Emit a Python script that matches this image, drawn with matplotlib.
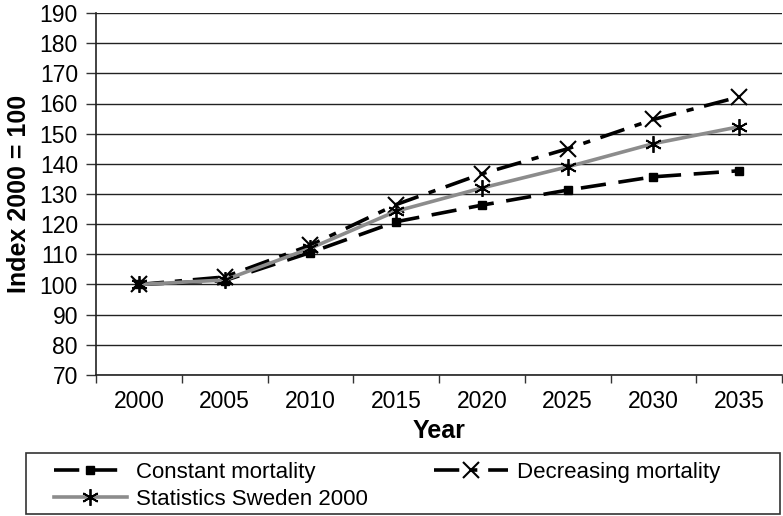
import matplotlib
matplotlib.use("Agg")
import matplotlib.pyplot as plt
from matplotlib.patches import Rectangle

plt.rcParams['font.family'] = ['Liberation Sans', 'DejaVu Sans']

years = ["2000", "2005", "2010", "2015", "2020", "2025", "2030", "2035"]
constant = [100, 101.3, 110.6, 120.8, 126.3, 131.3, 135.7, 137.7]
decreasing = [100, 102.5, 113.0, 126.5, 136.7, 145.0, 154.7, 162.2]
statistics = [100, 101.5, 112.0, 124.3, 132.0, 139.0, 146.7, 152.3]
yticks = list(range(70, 191, 10))

W, H = 783, 516
fig = plt.figure(figsize=(W / 100, H / 100), dpi=100)
ax = fig.add_axes([96 / W, 1 - 375 / H, (782 - 96) / W, (375 - 13) / H])

x = list(range(len(years)))
l1, = ax.plot(x, constant, color='black', lw=2.6, dashes=(7, 3.5),
              marker='s', ms=5.5, mfc='black', mec='black',
              label='Constant mortality', zorder=3)
l2, = ax.plot(x, decreasing, color='black', lw=2.6, dashes=(7, 3, 2, 3),
              marker='x', ms=11, mew=1.5, mec='black',
              label='Decreasing mortality', zorder=3)
l3, = ax.plot(x, statistics, color='#8c8c8c', lw=2.6,
              marker=(6, 2, 0), ms=12, mew=1.3, mec='black', mfc='black',
              label='Statistics Sweden 2000', zorder=4)

ax.set_xlim(-0.5, len(years) - 0.5)
ax.set_ylim(70, 190)
ax.set_yticks(yticks)
ax.set_yticklabels([str(v) for v in yticks], fontsize=16.5)
ax.yaxis.grid(True, color='#222222', lw=1.0)
ax.set_axisbelow(True)

ax.set_xticks([i - 0.5 for i in range(len(years) + 1)])
ax.set_xticklabels([''] * (len(years) + 1))
ax.set_xticks(x, minor=True)
ax.set_xticklabels(years, minor=True, fontsize=16.5)
ax.tick_params(axis='x', which='major', direction='out', length=6, width=1, color='#333333')
ax.tick_params(axis='x', which='minor', length=0, pad=11)
ax.tick_params(axis='y', direction='out', length=7, width=1, color='#333333', pad=6)

for s in ['top', 'right']:
    ax.spines[s].set_visible(False)
for s in ['left', 'bottom']:
    ax.spines[s].set_color('#222222')
    ax.spines[s].set_linewidth(1.2)

ax.set_ylabel('Index 2000 = 100', fontsize=18, fontweight='bold', labelpad=6)
ax.set_xlabel('Year', fontsize=18, fontweight='bold', labelpad=4)

# legend box
fig.patches.append(Rectangle((26 / W, 1 - 514 / H), (780 - 26) / W, (514 - 453) / H,
                             transform=fig.transFigure, fill=False,
                             edgecolor='#333333', lw=1.2))
leg = fig.legend(handles=[l1, l3, l2], loc='upper left',
                 bbox_to_anchor=(38 / W, 1 - 446 / H), ncol=2, frameon=False,
                 fontsize=16, handlelength=3.3, handletextpad=0.4,
                 columnspacing=3.0, labelspacing=0.3, borderpad=0.2)

fig.savefig('out.png', dpi=100)
